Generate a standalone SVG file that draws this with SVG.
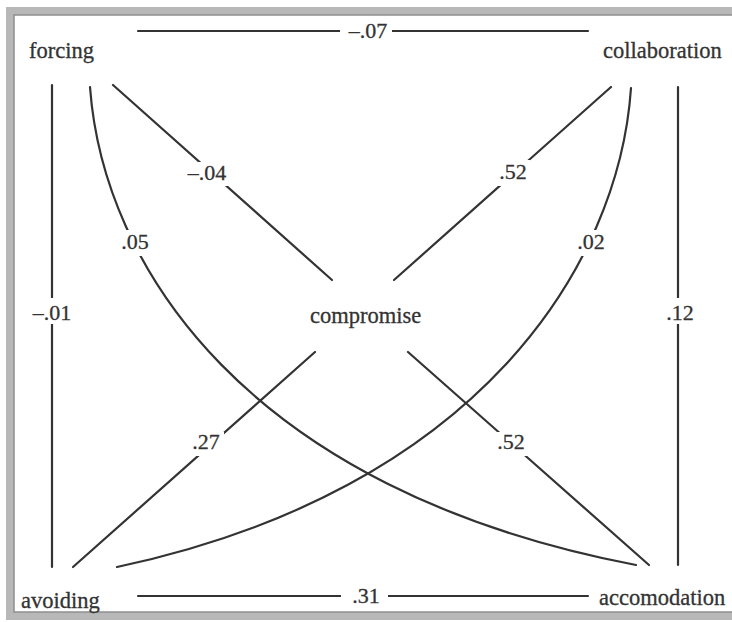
<svg xmlns="http://www.w3.org/2000/svg" width="732" height="622" viewBox="0 0 732 622">
  <style>
    .node { font-family: "Liberation Serif", "Times New Roman", serif; font-size: 22.5px; fill: #333333; stroke: #333333; stroke-width: 0.3; }
    .lbl { font-family: "Liberation Serif", "Times New Roman", serif; font-size: 22px; fill: #333333; stroke: #333333; stroke-width: 0.3; text-anchor: middle; }
    .edge { fill: none; stroke: #333333; stroke-width: 2.2; stroke-linecap: round; }
    .bg { fill: #ffffff; stroke: none; }
  </style>
  <rect x="0" y="0" width="732" height="622" fill="#ffffff"/>
  <!-- frame -->
  <rect x="10" y="11" width="740" height="605" fill="none" stroke="#b8b8b8" stroke-width="8"/>
  <rect x="14" y="15" width="740" height="597" fill="none" stroke="#8e8e8e" stroke-width="1.5"/>

  <g id="connectors">
    <g id="e-forcing-collaboration">
      <line class="edge" x1="138" y1="31" x2="588" y2="31"/>
      <rect class="bg" x="340" y="20" width="52" height="22"/>
      <text class="lbl" x="368" y="38">–.07</text>
    </g>
    <g id="e-avoiding-accomodation">
      <line class="edge" x1="138" y1="596" x2="588" y2="596"/>
      <rect class="bg" x="341" y="585" width="47" height="22"/>
      <text class="lbl" x="366" y="603">.31</text>
    </g>
    <g id="e-forcing-avoiding">
      <line class="edge" x1="52" y1="85" x2="52" y2="567"/>
      <rect class="bg" x="30" y="298" width="44" height="26"/>
      <text class="lbl" x="52" y="320">–.01</text>
    </g>
    <g id="e-collaboration-accomodation">
      <line class="edge" x1="678" y1="87" x2="678" y2="565"/>
      <rect class="bg" x="666" y="298" width="30" height="26"/>
      <text class="lbl" x="680" y="320">.12</text>
    </g>
    <g id="e-forcing-compromise">
      <line class="edge" x1="113" y1="85" x2="332" y2="280"/>
      <rect class="bg" x="184" y="162" width="46" height="24"/>
      <text class="lbl" x="207" y="180">–.04</text>
    </g>
    <g id="e-collaboration-compromise">
      <line class="edge" x1="611" y1="87" x2="394" y2="280"/>
      <rect class="bg" x="496" y="160" width="34" height="26"/>
      <text class="lbl" x="513" y="179">.52</text>
    </g>
    <g id="e-compromise-avoiding">
      <line class="edge" x1="315" y1="352" x2="73" y2="567"/>
      <rect class="bg" x="190" y="432" width="34" height="24"/>
      <text class="lbl" x="206" y="449">.27</text>
    </g>
    <g id="e-compromise-accomodation">
      <line class="edge" x1="408" y1="352" x2="649" y2="565"/>
      <rect class="bg" x="494" y="432" width="34" height="24"/>
      <text class="lbl" x="511" y="449">.52</text>
    </g>
    <g id="e-forcing-accomodation">
      <path class="edge" d="M90,87 C103,265 245,490 636,565"/>
      <rect class="bg" x="120" y="230" width="30" height="26"/>
      <text class="lbl" x="135" y="249">.05</text>
    </g>
    <g id="e-collaboration-avoiding">
      <path class="edge" d="M631,88 C619,265 479,490 117,567"/>
      <rect class="bg" x="576" y="230" width="30" height="26"/>
      <text class="lbl" x="591" y="249">.02</text>
    </g>
  </g>

  <g id="node-forcing"><text class="node" x="29" y="58">forcing</text></g>
  <g id="node-collaboration"><text class="node" x="603" y="58">collaboration</text></g>
  <g id="node-compromise"><text class="node" x="310" y="323">compromise</text></g>
  <g id="node-avoiding"><text class="node" x="21" y="608">avoiding</text></g>
  <g id="node-accomodation"><text class="node" x="599" y="605">accomodation</text></g>
</svg>
